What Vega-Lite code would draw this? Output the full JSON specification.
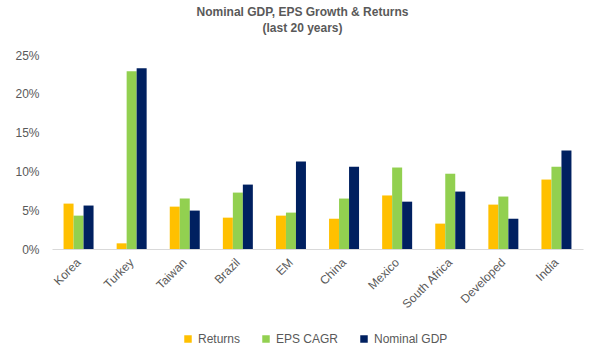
{
  "$schema": "https://vega.github.io/schema/vega-lite/v6.json",
  "autosize": "none",
  "width": 531,
  "height": 194,
  "padding": {"left": 52, "top": 55, "right": 19, "bottom": 111},
  "background": "white",
  "title": {
    "text": ["Nominal GDP, EPS Growth & Returns", "(last 20 years)"],
    "anchor": "middle",
    "dx": -15,
    "offset": 14,
    "font": "Liberation Sans",
    "fontSize": 12,
    "fontWeight": "bold",
    "color": "#595959",
    "lineHeight": 16
  },
  "data": {
    "values": [
      {"country": "Korea", "series": "Returns", "value": 0.0585},
      {"country": "Korea", "series": "EPS CAGR", "value": 0.043},
      {"country": "Korea", "series": "Nominal GDP", "value": 0.056},
      {"country": "Turkey", "series": "Returns", "value": 0.0073},
      {"country": "Turkey", "series": "EPS CAGR", "value": 0.229},
      {"country": "Turkey", "series": "Nominal GDP", "value": 0.233},
      {"country": "Taiwan", "series": "Returns", "value": 0.0546},
      {"country": "Taiwan", "series": "EPS CAGR", "value": 0.065},
      {"country": "Taiwan", "series": "Nominal GDP", "value": 0.0495},
      {"country": "Brazil", "series": "Returns", "value": 0.0404},
      {"country": "Brazil", "series": "EPS CAGR", "value": 0.0727},
      {"country": "Brazil", "series": "Nominal GDP", "value": 0.083},
      {"country": "EM", "series": "Returns", "value": 0.043},
      {"country": "EM", "series": "EPS CAGR", "value": 0.0469},
      {"country": "EM", "series": "Nominal GDP", "value": 0.1127},
      {"country": "China", "series": "Returns", "value": 0.039},
      {"country": "China", "series": "EPS CAGR", "value": 0.065},
      {"country": "China", "series": "Nominal GDP", "value": 0.106},
      {"country": "Mexico", "series": "Returns", "value": 0.069},
      {"country": "Mexico", "series": "EPS CAGR", "value": 0.105},
      {"country": "Mexico", "series": "Nominal GDP", "value": 0.061},
      {"country": "South Africa", "series": "Returns", "value": 0.0327},
      {"country": "South Africa", "series": "EPS CAGR", "value": 0.097},
      {"country": "South Africa", "series": "Nominal GDP", "value": 0.074},
      {"country": "Developed", "series": "Returns", "value": 0.0572},
      {"country": "Developed", "series": "EPS CAGR", "value": 0.0676},
      {"country": "Developed", "series": "Nominal GDP", "value": 0.039},
      {"country": "India", "series": "Returns", "value": 0.0895},
      {"country": "India", "series": "EPS CAGR", "value": 0.106},
      {"country": "India", "series": "Nominal GDP", "value": 0.127}
    ]
  },
  "mark": {"type": "bar"},
  "encoding": {
    "x": {
      "field": "country",
      "type": "nominal",
      "sort": null,
      "scale": {"paddingInner": 0.435, "paddingOuter": 0.2175},
      "axis": {
        "title": null,
        "labelAngle": -45,
        "labelAlign": "right",
        "labelBaseline": "middle",
        "labelPadding": 11,
        "labelFont": "Liberation Sans",
        "labelFontSize": 12,
        "labelColor": "#595959",
        "ticks": false,
        "domainColor": "#D9D9D9",
        "domainWidth": 1,
        "grid": false
      }
    },
    "xOffset": {"field": "series", "type": "nominal", "sort": ["Returns", "EPS CAGR", "Nominal GDP"]},
    "y": {
      "field": "value",
      "type": "quantitative",
      "scale": {"domain": [0, 0.25], "nice": false},
      "axis": {
        "title": null,
        "format": ".0%",
        "values": [0, 0.05, 0.1, 0.15, 0.2, 0.25],
        "labelFont": "Liberation Sans",
        "labelFontSize": 12,
        "labelColor": "#595959",
        "labelPadding": 13,
        "ticks": false,
        "domain": false,
        "grid": false
      }
    },
    "color": {
      "field": "series",
      "type": "nominal",
      "sort": ["Returns", "EPS CAGR", "Nominal GDP"],
      "scale": {"domain": ["Returns", "EPS CAGR", "Nominal GDP"], "range": ["#FFC000", "#92D050", "#002060"]},
      "legend": {
        "title": null,
        "orient": "none",
        "direction": "horizontal",
        "legendX": 130,
        "legendY": 278,
        "symbolType": "square",
        "symbolSize": 56,
        "symbolStrokeWidth": 0,
        "labelFont": "Liberation Sans",
        "labelFontSize": 12,
        "labelColor": "#595959",
        "labelOffset": 4,
        "columnPadding": 19
      }
    }
  },
  "config": {"view": {"stroke": null}}
}
